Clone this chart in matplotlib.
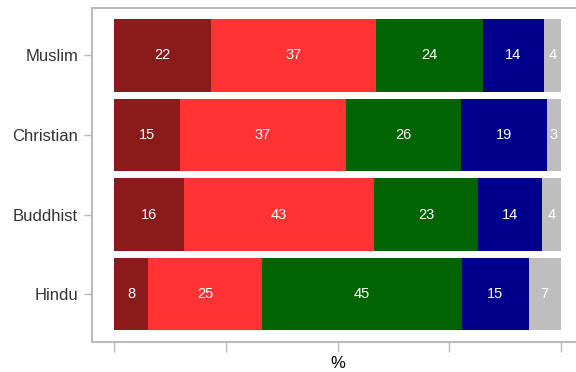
import numpy as np
import matplotlib.pyplot as plt

plt.rcParams['font.family'] = ['Liberation Sans', 'DejaVu Sans']

# ==========================
# Data (percent per group)
# ==========================
groups = ["Hindu", "Buddhist", "Christian", "Muslim"]
seg1 = [7.6, 15.6, 14.8, 21.7]
seg2 = [25.4, 42.6, 37.0, 37.0]
seg3 = [44.8, 23.3, 25.8, 23.8]
seg4 = [15.0, 14.3, 19.3, 13.7]
seg5 = [7.2, 4.3, 3.1, 3.8]

colors = ["#8B1A1A", "#FF3333", "#006400", "#00008B", "#BEBEBE"]
xticks = [0, 25, 50, 75, 100]

# ==========================
# Plot
# ==========================
fig = plt.figure(figsize=(5.76, 3.72), dpi=100)
ax = fig.add_axes([92 / 576, 30 / 372, 491 / 576, 334.5 / 372])

y = np.arange(len(groups))
left = np.zeros(len(groups))
for vals, c in zip([seg1, seg2, seg3, seg4, seg5], colors):
    vals = np.array(vals)
    ax.barh(y, vals, left=left, height=0.91, color=c, linewidth=0)
    for yi, l, v in zip(y, left, vals):
        ax.text(l + v / 2, yi, f"{round(v)}", ha="center", va="center",
                color="white", fontsize=10.5)
    left += vals

ax.set_xlim(-5, 105)
ax.set_ylim(-0.6, 3.6)
ax.set_yticks(y)
ax.set_yticklabels(groups, fontsize=12, color="#333333")
ax.set_xticks(xticks)
ax.set_xticklabels([])
ax.set_xlabel("%", fontsize=12, labelpad=3)

for s in ["left", "top", "bottom", "right"]:
    ax.spines[s].set_color("#BBBBBB")
    ax.spines[s].set_linewidth(1.5)
ax.tick_params(axis="both", colors="#BBBBBB", length=6, width=1)
ax.tick_params(axis="y", labelcolor="#333333", pad=4)
ax.tick_params(axis="x", direction="out", length=7, pad=0)

fig.savefig("out.png", dpi=100)
